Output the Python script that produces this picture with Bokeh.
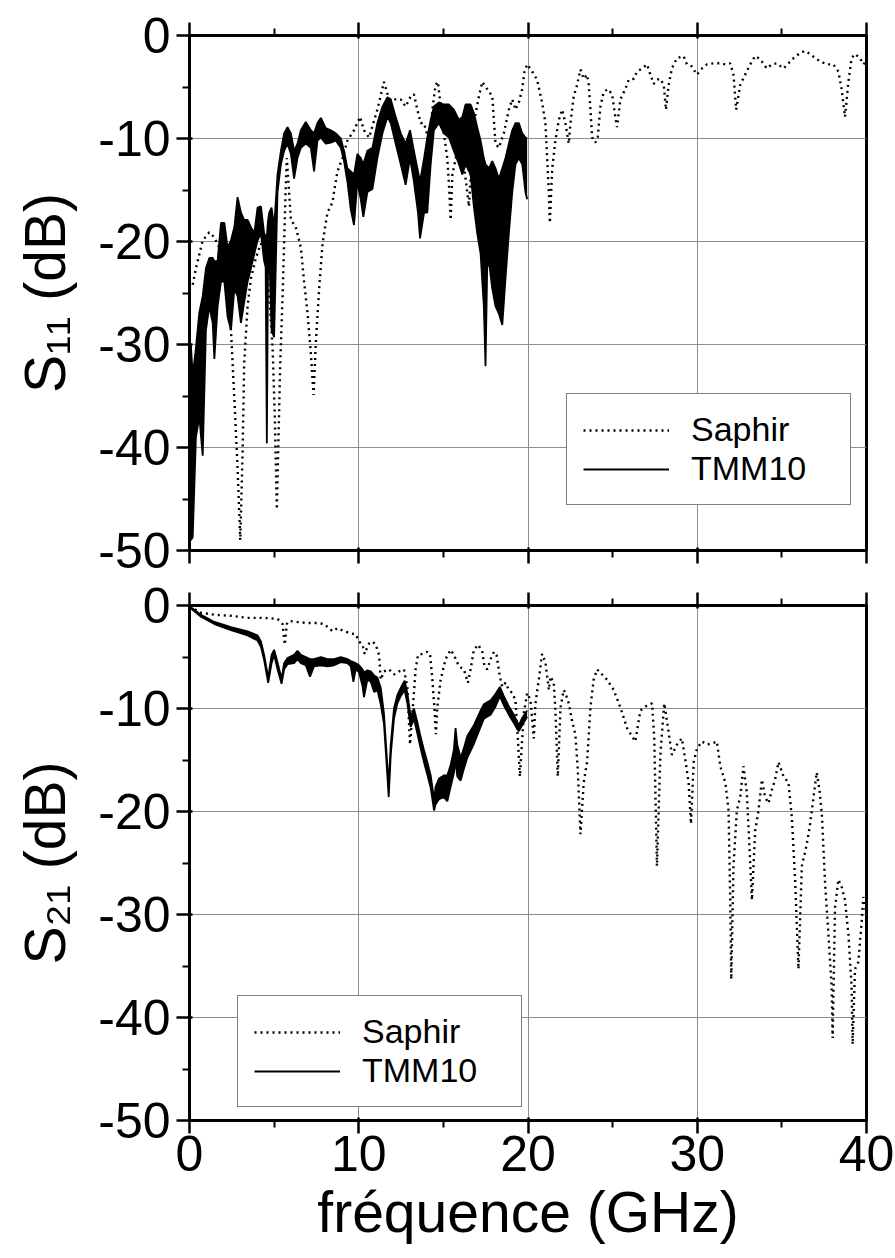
from bokeh.plotting import figure
from bokeh.models import LinearAxis, Legend, LegendItem, FixedTicker, Range1d
from bokeh.layouts import column
from bokeh.embed import file_html
from bokeh.resources import INLINE

FONT = "Liberation Sans"
TICK_FS = "50px"
LABEL_FS = "57px"
LEG_FS = "34px"

x_major = [0, 10, 20, 30, 40]
x_minor = [5, 15, 25, 35]
y_major = [0, -10, -20, -30, -40, -50]
y_minor = [-5, -15, -25, -35, -45]

# ---------------- S11 : Saphir (dotted) ----------------
s11_saphir_f = [
    0.19, 0.38, 0.78, 1.17, 1.47, 1.76, 2.15, 2.45, 2.65, 2.84,
    3.00, 3.14, 3.23, 3.43, 3.63, 3.92, 4.22, 4.51, 4.71, 4.91,
    5.04, 5.16, 5.24, 5.36, 5.50, 5.59, 5.69, 5.75, 5.99, 6.28,
    6.58, 6.77, 6.97, 7.17, 7.33, 7.46, 7.66, 7.86, 8.15, 8.45,
    8.54, 8.74, 9.04, 9.33, 9.72, 10.08, 10.31, 10.61, 11.10, 11.49,
    11.79, 12.48, 12.77, 13.07, 13.26, 13.46, 13.66, 13.85, 14.15, 14.35,
    14.54, 14.68, 14.84, 15.03, 15.23, 15.33, 15.43, 15.53, 15.82, 16.21,
    16.51, 16.80, 17.10, 17.30, 17.59, 17.89, 18.08, 18.28, 18.57, 18.87,
    19.07, 19.26, 19.46, 19.66, 19.79, 19.95, 20.25, 20.54, 20.83, 21.03,
    21.13, 21.23, 21.29, 21.43, 21.62, 21.82, 22.02, 22.21, 22.41, 22.51,
    22.70, 22.90, 23.10, 23.29, 23.49, 23.59, 23.69, 23.79, 23.98, 24.12,
    24.28, 24.47, 24.71, 24.97, 25.16, 25.26, 25.46, 25.75, 25.95, 26.25,
    26.44, 26.74, 27.03, 27.23, 27.43, 27.62, 27.82, 28.02, 28.15, 28.31,
    28.50, 28.80, 29.19, 29.39, 29.68, 29.98, 30.28, 30.57, 30.97, 31.36,
    31.66, 31.95, 32.14, 32.30, 32.54, 32.83, 33.13, 33.42, 33.72, 34.11,
    34.41, 34.70, 35.10, 35.39, 35.69, 36.08, 36.38, 36.67, 36.97, 37.26,
    37.65, 38.04, 38.34, 38.53, 38.73, 38.93, 39.12, 39.32, 39.62, 39.81,
    40.0]
s11_saphir_db = [
    -24.2, -22.6, -19.9, -19.1, -19.6, -20.6, -23.6, -28.6, -35.3, -42.0,
    -49.0, -40.3, -31.9, -26.3, -23.6, -21.6, -20.2, -21.2, -25.3, -30.3,
    -37.0, -46.0, -40.3, -31.9, -25.3, -20.2, -14.5, -11.9, -17.9, -18.6,
    -20.6, -23.9, -26.9, -30.9, -34.9, -29.9, -24.6, -20.2, -17.2, -16.2,
    -15.2, -13.2, -11.9, -10.2, -9.2, -7.9, -9.2, -9.9, -7.2, -4.5,
    -6.2, -6.2, -6.9, -5.9, -5.7, -7.2, -8.5, -8.5, -10.2, -7.2,
    -4.8, -4.5, -6.9, -9.5, -11.9, -14.5, -17.9, -13.5, -11.2, -12.5,
    -16.6, -8.5, -5.9, -4.5, -5.2, -5.9, -10.5, -10.9, -9.5, -7.2,
    -6.2, -7.2, -6.5, -5.2, -3.5, -2.8, -3.5, -4.3, -6.5, -8.5,
    -11.9, -15.2, -18.2, -12.9, -10.2, -8.2, -7.2, -8.5, -10.5, -8.5,
    -5.9, -4.8, -3.3, -4.2, -3.8, -4.8, -7.2, -9.9, -10.4, -9.9,
    -6.9, -5.5, -5.2, -5.7, -7.9, -8.9, -6.2, -5.2, -4.3, -4.2,
    -3.5, -3.2, -2.8, -3.8, -4.7, -4.3, -4.2, -4.8, -7.2, -4.8,
    -3.2, -2.2, -2.0, -2.8, -3.0, -3.8, -3.2, -2.8, -2.7, -2.7,
    -2.8, -2.7, -3.8, -7.2, -4.8, -3.8, -2.8, -2.0, -2.3, -3.2,
    -2.8, -2.7, -3.2, -2.7, -2.2, -1.7, -1.5, -1.8, -2.2, -2.5,
    -2.8, -2.8, -3.5, -5.2, -7.9, -4.5, -2.2, -1.8, -2.2, -2.8,
    -2.5]

# ---------------- S11 : TMM10 (noisy band: upper / lower envelope) ----------------
s11_tmm_f = [
    0.08, 0.19, 0.38, 0.58, 0.78, 0.97, 1.17, 1.37, 1.47, 1.66,
    1.86, 2.06, 2.25, 2.45, 2.65, 2.84, 3.04, 3.23, 3.43, 3.63,
    3.83, 4.02, 4.22, 4.41, 4.50, 4.57, 4.64, 4.71, 4.85, 5.00,
    5.20, 5.40, 5.59, 5.79, 5.99, 6.18, 6.38, 6.58, 6.87, 7.17,
    7.36, 7.56, 7.76, 8.05, 8.35, 8.64, 8.94, 9.13, 9.33, 9.53,
    9.72, 9.92, 10.12, 10.27, 10.51, 10.81, 11.10, 11.40, 11.69, 11.89,
    12.18, 12.48, 12.77, 13.03, 13.26, 13.50, 13.62, 13.86, 14.05, 14.25,
    14.44, 14.74, 15.03, 15.33, 15.62, 15.92, 16.12, 16.31, 16.61, 16.80,
    17.00, 17.20, 17.39, 17.49, 17.59, 17.69, 17.89, 18.08, 18.28, 18.48,
    18.67, 18.87, 19.07, 19.26, 19.46, 19.66, 19.85, 19.95]
s11_tmm_up = [
    -30.0, -33.0, -30.3, -26.9, -25.3, -22.6, -21.6, -21.6, -21.9, -21.9,
    -18.2, -18.2, -20.6, -19.9, -18.6, -15.7, -17.2, -17.9, -17.9, -18.6,
    -19.2, -16.7, -16.6, -19.2, -19.5, -19.5, -18.0, -17.2, -16.7, -18.6,
    -13.5, -11.2, -9.5, -8.9, -9.5, -11.2, -10.5, -9.2, -8.4, -9.2,
    -9.5, -8.5, -8.0, -9.0, -9.2, -9.5, -10.0, -11.2, -12.9, -13.2,
    -13.5, -11.5, -11.9, -12.5, -11.2, -10.9, -8.5, -6.9, -6.0, -6.2,
    -7.9, -9.5, -10.5, -9.2, -11.2, -13.2, -14.2, -11.9, -9.9, -8.2,
    -6.9, -6.5, -6.7, -6.7, -7.2, -8.2, -7.9, -6.7, -6.7, -7.5,
    -8.9, -10.2, -11.9, -12.5, -12.7, -12.9, -12.2, -12.9, -13.9, -12.9,
    -11.9, -10.5, -9.2, -8.5, -8.5, -9.5, -9.9, -10.0]
s11_tmm_lo = [
    -49.0, -48.7, -39.0, -37.0, -40.8, -28.6, -26.3, -27.9, -31.4, -26.3,
    -23.9, -23.9, -27.3, -28.6, -24.6, -25.3, -27.9, -25.9, -23.9, -22.6,
    -21.2, -19.9, -19.2, -21.9, -22.5, -39.6, -22.0, -21.2, -28.6, -29.3,
    -15.2, -12.5, -11.2, -10.5, -11.5, -13.9, -11.9, -10.9, -10.5, -10.9,
    -13.2, -10.2, -9.9, -10.5, -10.4, -10.2, -10.9, -12.2, -14.2, -16.9,
    -18.4, -14.2, -15.9, -17.6, -15.2, -14.9, -11.9, -9.5, -7.9, -8.5,
    -10.5, -12.5, -14.5, -11.9, -14.2, -17.2, -19.7, -17.2, -17.2, -12.5,
    -9.2, -8.5, -9.5, -9.9, -11.2, -12.5, -13.5, -12.5, -13.5, -16.6,
    -19.2, -21.2, -26.3, -32.1, -22.5, -21.9, -24.6, -26.3, -27.0, -28.1,
    -23.6, -19.2, -15.2, -12.5, -11.9, -12.5, -15.2, -15.9]

# ---------------- S21 : Saphir (dotted) ----------------
s21_saphir_f = [
    0.0, 0.68, 1.47, 2.45, 3.43, 4.41, 5.20, 5.50, 5.63, 5.75,
    5.89, 6.38, 6.97, 7.56, 7.95, 8.25, 8.45, 8.74, 9.13, 9.53,
    9.82, 10.02, 10.22, 10.35, 10.47, 10.61, 10.81, 11.00, 11.20, 11.30,
    11.49, 11.79, 12.08, 12.38, 12.67, 12.87, 13.03, 13.17, 13.36, 13.50,
    13.76, 14.05, 14.21, 14.35, 14.48, 14.56, 14.64, 14.84, 15.13, 15.43,
    15.62, 15.92, 16.21, 16.45, 16.61, 16.80, 17.06, 17.30, 17.43, 17.59,
    17.79, 17.99, 18.14, 18.34, 18.48, 18.67, 18.87, 19.07, 19.26, 19.40,
    19.52, 19.75, 19.95, 20.15, 20.34, 20.44, 20.64, 20.83, 21.03, 21.23,
    21.33, 21.52, 21.62, 21.76, 21.92, 22.11, 22.21, 22.41, 22.60, 22.80,
    22.94, 23.10, 23.29, 23.49, 23.69, 23.88, 24.08, 24.38, 24.67, 25.06,
    25.46, 25.85, 26.34, 26.64, 27.03, 27.33, 27.46, 27.62, 27.82, 28.05,
    28.21, 28.50, 28.80, 29.09, 29.29, 29.49, 29.63, 29.79, 29.98, 30.28,
    30.57, 30.87, 31.16, 31.36, 31.66, 31.85, 31.95, 32.01, 32.14, 32.34,
    32.54, 32.73, 32.93, 33.09, 33.23, 33.42, 33.62, 33.82, 34.01, 34.21,
    34.41, 34.60, 34.80, 35.10, 35.39, 35.59, 35.79, 35.98, 36.18, 36.47,
    36.67, 36.87, 37.06, 37.22, 37.36, 37.55, 37.75, 37.94, 38.00, 38.14,
    38.34, 38.53, 38.73, 38.93, 39.12, 39.18, 39.32, 39.52, 39.72, 39.81,
    40.0]
s21_saphir_db = [
    -0.1, -0.7, -0.9, -1.0, -1.2, -1.2, -1.3, -1.8, -3.8, -1.8,
    -1.5, -1.6, -1.7, -1.7, -1.8, -2.2, -2.5, -2.2, -2.5, -2.7,
    -2.8, -3.5, -3.8, -4.7, -4.2, -3.7, -3.5, -3.8, -4.8, -7.2,
    -6.4, -6.2, -6.7, -6.4, -6.2, -7.9, -13.5, -10.5, -6.2, -4.8,
    -4.7, -4.5, -4.7, -7.2, -10.2, -12.5, -9.9, -7.2, -5.2, -4.3,
    -4.8, -5.9, -6.2, -7.5, -6.2, -4.3, -3.8, -4.5, -5.9, -6.2,
    -5.2, -4.5, -4.8, -6.9, -7.9, -7.5, -8.2, -8.5, -9.2, -12.9,
    -16.6, -10.5, -8.5, -9.2, -12.9, -9.5, -7.2, -4.7, -5.5, -8.2,
    -6.9, -7.5, -10.2, -16.6, -9.9, -8.2, -8.5, -9.5, -11.2, -12.5,
    -15.9, -22.2, -17.2, -15.2, -9.9, -7.2, -6.2, -6.7, -7.2, -8.2,
    -9.9, -11.9, -13.2, -10.2, -9.7, -9.5, -12.9, -25.3, -14.5, -9.5,
    -11.2, -14.5, -13.5, -12.9, -14.9, -17.2, -21.2, -15.2, -13.9, -13.2,
    -13.5, -13.4, -13.2, -15.6, -17.2, -19.9, -28.6, -36.3, -25.3, -19.9,
    -18.6, -15.6, -18.2, -23.6, -28.6, -21.9, -19.9, -16.9, -18.6, -19.2,
    -17.9, -16.9, -15.2, -16.6, -17.2, -20.6, -26.9, -35.3, -25.3, -23.2,
    -21.2, -18.6, -16.2, -17.9, -20.2, -26.9, -31.9, -37.0, -42.0, -29.3,
    -26.6, -27.3, -28.6, -31.9, -37.0, -42.6, -35.3, -34.6, -30.6, -28.3,
    -30.0]

# ---------------- S21 : TMM10 (upper / lower envelope) ----------------
s21_tmm_f = [
    0.02, 0.68, 1.47, 2.45, 3.43, 4.02, 4.22, 4.41, 4.65, 4.85,
    5.00, 5.20, 5.44, 5.59, 5.79, 6.18, 6.38, 6.58, 6.87, 7.12,
    7.36, 7.76, 8.15, 8.54, 8.94, 9.33, 9.53, 9.68, 9.82, 10.02,
    10.22, 10.31, 10.51, 10.71, 10.91, 11.10, 11.30, 11.49, 11.65, 11.77,
    11.89, 12.08, 12.28, 12.48, 12.71, 12.87, 13.07, 13.26, 13.46, 13.66,
    13.85, 14.05, 14.25, 14.45, 14.54, 14.74, 15.03, 15.23, 15.43, 15.62,
    15.72, 15.82, 16.02, 16.22, 16.41, 16.81, 17.20, 17.39, 17.79, 18.08,
    18.34, 18.57, 18.87, 19.16, 19.36, 19.46, 19.66, 19.95]
s21_tmm_up = [
    -0.1, -0.9, -1.6, -2.1, -2.5, -2.9, -3.5, -4.8, -7.0, -4.8,
    -4.3, -5.5, -7.1, -5.6, -5.1, -4.8, -4.4, -4.8, -5.0, -5.2,
    -5.2, -5.0, -5.2, -5.2, -5.0, -5.2, -5.4, -5.5, -5.6, -5.8,
    -6.2, -6.5, -6.3, -6.4, -6.8, -7.0, -8.0, -10.5, -14.5, -17.5,
    -13.5, -10.0, -8.7, -8.0, -7.3, -8.5, -10.8, -10.0, -11.3, -12.8,
    -14.0, -15.2, -16.5, -18.8, -17.6, -16.8, -16.5, -16.5, -15.5, -14.0,
    -11.9, -13.5, -14.8, -13.8, -12.7, -11.6, -10.2, -9.6, -9.2, -8.6,
    -7.9, -8.8, -9.8, -10.6, -11.3, -11.6, -10.9, -10.2]
s21_tmm_lo = [
    -0.2, -1.1, -1.8, -2.4, -2.9, -3.4, -4.0, -5.3, -7.5, -5.6,
    -4.8, -6.2, -7.6, -6.2, -5.7, -5.6, -5.2, -5.6, -5.8, -6.9,
    -5.9, -5.8, -5.9, -5.8, -5.5, -5.6, -5.9, -7.4, -6.2, -6.5,
    -7.8, -8.9, -7.2, -7.4, -8.4, -8.2, -9.6, -11.5, -15.5, -18.6,
    -14.5, -11.0, -9.5, -8.8, -8.2, -9.5, -11.8, -11.0, -12.4, -13.9,
    -15.2, -16.4, -17.7, -19.9, -19.3, -18.8, -18.6, -19.0, -17.6, -16.3,
    -15.0, -16.6, -17.0, -15.8, -14.8, -13.4, -11.8, -11.0, -10.6, -9.8,
    -8.8, -9.7, -10.6, -11.4, -12.0, -12.2, -11.6, -10.8]


def style_axis(ax, show_labels, ticks):
    ax.axis_line_width = 3
    ax.axis_line_color = "black"
    ax.major_tick_line_width = 2.5
    ax.minor_tick_line_width = 2
    ax.major_tick_line_color = "black"
    ax.minor_tick_line_color = "black"
    ax.major_tick_out = 13
    ax.major_tick_in = 3
    ax.minor_tick_out = 7
    ax.minor_tick_in = 0
    ax.major_label_text_font = FONT
    ax.major_label_text_color = "black"
    ax.major_label_text_font_size = TICK_FS
    if show_labels:
        ax.major_label_overrides = {v: str(v) for v in ticks}
    else:
        ax.major_label_overrides = {v: "" for v in ticks}
    ax.major_label_standoff = 6
    ax.axis_label_text_font = FONT
    ax.axis_label_text_font_style = "normal"
    ax.axis_label_text_font_size = LABEL_FS
    ax.axis_label_text_color = "black"


def make_panel(min_top, min_bottom, ylabel, show_xlabels):
    p = figure(frame_width=677, frame_height=515,
               x_range=Range1d(0, 40), y_range=Range1d(-50, 0),
               output_backend="svg", toolbar_location=None,
               min_border_left=189, min_border_right=29,
               min_border_top=min_top, min_border_bottom=min_bottom)
    p.background_fill_color = "white"
    p.border_fill_color = "white"
    p.outline_line_color = "black"
    p.outline_line_width = 3
    p.outline_line_alpha = 1.0

    xa = p.xaxis[0]
    style_axis(xa, show_xlabels, x_major)
    xa.ticker = FixedTicker(ticks=x_major, minor_ticks=x_minor)
    if show_xlabels:
        xa.major_label_standoff = 2
        xa.axis_label = "fréquence (GHz)"
        xa.axis_label_standoff = 6

    ya = p.yaxis[0]
    style_axis(ya, True, y_major)
    ya.ticker = FixedTicker(ticks=y_major, minor_ticks=y_minor)
    ya.axis_label = ylabel
    ya.axis_label_standoff = 18

    top = LinearAxis()
    style_axis(top, False, x_major)
    top.ticker = FixedTicker(ticks=x_major, minor_ticks=x_minor)
    p.add_layout(top, "above")

    p.xgrid.ticker = FixedTicker(ticks=x_major)
    p.ygrid.ticker = FixedTicker(ticks=y_major)
    for g in (p.xgrid, p.ygrid):
        g.grid_line_color = "#8c8c8c"
        g.grid_line_width = 1
    return p


def draw(p, sf, sdb, tf, tup, tlo, legend_loc):
    r_sap = p.line(sf, sdb, line_color="black", line_width=2.4,
                   line_dash="2 4")
    p.varea(x=tf, y1=tlo, y2=tup, fill_color="black")
    r_tmm = p.line(tf, tup, line_color="black", line_width=1.8)
    p.line(tf, tlo, line_color="black", line_width=1.8)
    leg = Legend(items=[LegendItem(label="Saphir", renderers=[r_sap]),
                        LegendItem(label="TMM10", renderers=[r_tmm])],
                 location=legend_loc)
    leg.label_text_font = FONT
    leg.label_text_font_size = LEG_FS
    leg.label_text_color = "black"
    leg.border_line_color = "black"
    leg.border_line_width = 1.5
    leg.background_fill_color = "white"
    leg.background_fill_alpha = 1.0
    leg.padding = 16
    leg.margin = 0
    leg.spacing = 0
    leg.glyph_width = 86
    leg.glyph_height = 34
    leg.label_height = 34
    leg.label_width = 143
    leg.label_standoff = 22
    p.add_layout(leg)


p1 = make_panel(35, 28, "S\u2081\u2081 (dB)", False)
draw(p1, s11_saphir_f, s11_saphir_db, s11_tmm_f, s11_tmm_up, s11_tmm_lo, (377, 45))

p2 = make_panel(27, 132, "S\u2082\u2081 (dB)", True)
draw(p2, s21_saphir_f, s21_saphir_db, s21_tmm_f, s21_tmm_up, s21_tmm_lo, (48, 13))

layout = column(p1, p2, spacing=0)
open("out.html", "w").write(file_html(layout, INLINE))
